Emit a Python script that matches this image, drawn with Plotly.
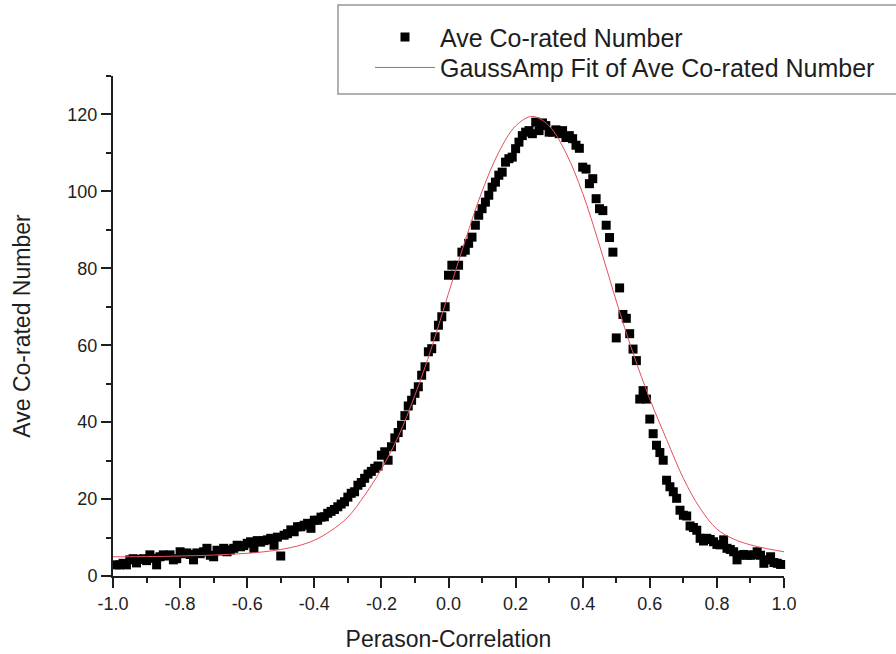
import plotly.graph_objects as go

# ---- data ----
x_corr = [
    -0.99, -0.98, -0.97, -0.96, -0.95, -0.94, -0.93, -0.92, -0.91, -0.90,
    -0.89, -0.88, -0.87, -0.86, -0.85, -0.84, -0.83, -0.82, -0.81, -0.80,
    -0.79, -0.78, -0.77, -0.76, -0.75, -0.74, -0.73, -0.72, -0.71, -0.70,
    -0.69, -0.68, -0.67, -0.66, -0.65, -0.64, -0.63, -0.62, -0.61, -0.60,
    -0.59, -0.58, -0.57, -0.56, -0.55, -0.54, -0.53, -0.52, -0.51, -0.50,
    -0.49, -0.48, -0.47, -0.46, -0.45, -0.44, -0.43, -0.42, -0.41, -0.40,
    -0.39, -0.38, -0.37, -0.36, -0.35, -0.34, -0.33, -0.32, -0.31, -0.30,
    -0.29, -0.28, -0.27, -0.26, -0.25, -0.24, -0.23, -0.22, -0.21, -0.20,
    -0.19, -0.18, -0.17, -0.16, -0.15, -0.14, -0.13, -0.12, -0.11, -0.10,
    -0.09, -0.08, -0.07, -0.06, -0.05, -0.04, -0.03, -0.02, -0.01, 0.00,
    0.01, 0.02, 0.03, 0.04, 0.05, 0.06, 0.07, 0.08, 0.09, 0.10,
    0.11, 0.12, 0.13, 0.14, 0.15, 0.16, 0.17, 0.18, 0.19, 0.20,
    0.21, 0.22, 0.23, 0.24, 0.25, 0.26, 0.27, 0.28, 0.29, 0.30,
    0.31, 0.32, 0.33, 0.34, 0.35, 0.36, 0.37, 0.38, 0.39, 0.40,
    0.41, 0.42, 0.43, 0.44, 0.45, 0.46, 0.47, 0.48, 0.49, 0.50,
    0.51, 0.52, 0.53, 0.54, 0.55, 0.56, 0.57, 0.58, 0.59, 0.60,
    0.61, 0.62, 0.63, 0.64, 0.65, 0.66, 0.67, 0.68, 0.69, 0.70,
    0.71, 0.72, 0.73, 0.74, 0.75, 0.76, 0.77, 0.78, 0.79, 0.80,
    0.81, 0.82, 0.83, 0.84, 0.85, 0.86, 0.87, 0.88, 0.89, 0.90,
    0.91, 0.92, 0.93, 0.94, 0.95, 0.96, 0.97, 0.98, 0.99,
]

ave_corated = [
    2.9, 2.9, 3.3, 2.9, 4.2, 4.5, 3.4, 4.3, 4.5, 4.0,
    5.5, 4.6, 2.9, 5.0, 5.5, 5.2, 5.5, 4.2, 4.5, 6.3,
    5.8, 6.0, 5.6, 4.2, 6.0, 5.8, 6.3, 7.2, 5.4, 5.0,
    6.7, 6.5, 7.2, 6.3, 6.8, 7.2, 8.0, 7.6, 7.9, 8.5,
    8.9, 7.2, 9.2, 8.8, 9.2, 9.4, 9.8, 8.0, 10.1, 5.2,
    10.6, 11.0, 12.0, 11.5, 12.8, 12.8, 13.2, 13.7, 12.4, 14.5,
    14.5, 15.3, 15.4, 16.3, 16.8, 17.3, 18.0, 18.7, 19.3, 20.5,
    21.5, 21.9, 23.6, 24.3, 25.4, 26.5, 27.2, 28.0, 28.6, 31.4,
    32.3, 30.1, 33.6, 35.9, 37.3, 39.2, 41.7, 44.2, 45.7, 47.5,
    49.2, 52.2, 54.4, 58.3, 59.1, 62.2, 65.2, 67.4, 70.0, 78.2,
    80.8, 78.2, 80.8, 84.2, 84.7, 86.5, 88.1, 91.2, 93.8, 95.5,
    97.2, 99.0, 101.1, 102.4, 104.2, 105.0, 107.6, 108.5, 108.9, 111.1,
    112.8, 114.5, 115.4, 115.8, 115.0, 118.0, 115.8, 117.8, 117.1, 115.4,
    115.4, 116.0, 115.0, 115.8, 114.0, 114.5, 113.7, 112.0, 111.2, 106.3,
    105.8, 102.0, 103.3, 98.1, 95.5, 95.0, 91.2, 88.0, 84.2, 61.9,
    74.9, 68.0, 67.0, 63.0, 59.0, 56.0, 46.0, 48.2, 46.0, 40.8,
    37.0, 34.0, 32.1, 30.1, 24.9, 23.2, 21.9, 20.2, 17.1, 15.8,
    15.6, 13.0, 12.6, 11.9, 9.8, 9.1, 9.8, 9.5, 8.9, 8.2,
    8.1, 9.4, 7.2, 6.9, 6.3, 4.2, 5.4, 5.6, 5.4, 5.4,
    5.5, 6.3, 5.4, 3.3, 4.2, 5.0, 3.5, 3.3, 3.0,
]

fit_x = [
    -1.00, -0.95, -0.90, -0.85, -0.80, -0.75, -0.70, -0.65, -0.60, -0.55,
    -0.50, -0.45, -0.40, -0.35, -0.30, -0.25, -0.20, -0.15, -0.10, -0.05,
    0.00, 0.05, 0.10, 0.15, 0.20, 0.25, 0.30, 0.35, 0.40, 0.45,
    0.50, 0.55, 0.60, 0.65, 0.70, 0.75, 0.80, 0.85, 0.90, 0.95, 1.00,
]
fit_y = [
    5.0, 5.0, 5.05, 5.1, 5.2, 5.3, 5.45, 5.65, 5.9, 6.3,
    6.9, 7.8, 9.3, 11.8, 15.3, 21.0, 27.8, 36.2, 47.0, 59.5,
    73.5, 87.3, 100.0, 110.2, 117.0, 119.5, 117.0, 110.0, 99.5, 86.0,
    71.5, 58.0, 46.0, 35.5, 25.4, 17.6, 12.2, 9.6, 8.1, 7.1, 6.3,
]

x_tickvals = [-1.0, -0.8, -0.6, -0.4, -0.2, 0.0, 0.2, 0.4, 0.6, 0.8, 1.0]
x_ticktext = ["-1.0", "-0.8", "-0.6", "-0.4", "-0.2", "0.0", "0.2", "0.4", "0.6", "0.8", "1.0"]
y_tickvals = [0, 20, 40, 60, 80, 100, 120]

series_name = "Ave Co-rated Number"
fit_name = "GaussAmp Fit of Ave Co-rated Number"

FONT = "Liberation Sans, Arial, Helvetica, sans-serif"
INK = "#1e1e1e"

fig = go.Figure()
fig.add_trace(go.Scatter(
    x=x_corr, y=ave_corated, mode="markers", name=series_name,
    marker=dict(symbol="square", size=9, color="black", line=dict(width=0)),
    cliponaxis=False, legend="legend", showlegend=True,
))
fig.add_trace(go.Scatter(
    x=fit_x, y=fit_y, mode="lines", name=fit_name,
    line=dict(color="#e4505a", width=1, shape="spline"),
    legend="legend2", showlegend=True,
))

axis_common = dict(
    showline=True, linecolor=INK, linewidth=2,
    ticks="outside", ticklen=10, tickwidth=1.5, tickcolor=INK,
    showgrid=False, zeroline=False, mirror=False, automargin=False,
    tickfont=dict(family=FONT, size=18, color=INK),
)

legend_common = dict(
    xanchor="left", yanchor="top",
    bgcolor="rgba(0,0,0,0)", borderwidth=0,
    font=dict(family=FONT, size=25, color=INK),
    itemwidth=60, visible=True,
)

fig.update_layout(
    width=896, height=654, autosize=False,
    showlegend=True,
    margin=dict(l=113, r=112, t=76, b=78, pad=0),
    paper_bgcolor="white", plot_bgcolor="white",
    font=dict(family=FONT, color=INK),
    xaxis=dict(
        range=[-1, 1], tickvals=x_tickvals, ticktext=x_ticktext,
        minor=dict(ticks="outside", ticklen=5, tick0=-1, dtick=0.1, tickcolor=INK, tickwidth=1.5),
        title=dict(text="Perason-Correlation", font=dict(family=FONT, size=23, color=INK), standoff=18),
        **axis_common,
    ),
    yaxis=dict(
        range=[0, 130], tickvals=y_tickvals,
        minor=dict(ticks="outside", ticklen=5, tick0=0, dtick=10, tickcolor=INK, tickwidth=1.5),
        title=dict(text="Ave Co-rated Number", font=dict(family=FONT, size=23, color=INK), standoff=30),
        **axis_common,
    ),
    legend=dict(x=0.383, y=1.1236, **legend_common),
    legend2=dict(x=0.383, y=1.0626, **legend_common),
    shapes=[dict(
        type="rect", xref="paper", yref="paper",
        x0=0.3353, x1=1.2, y0=0.964, y1=1.142,
        line=dict(color="#999999", width=1.5), fillcolor="rgba(0,0,0,0)",
    )],
)

fig.write_html("out.html")
